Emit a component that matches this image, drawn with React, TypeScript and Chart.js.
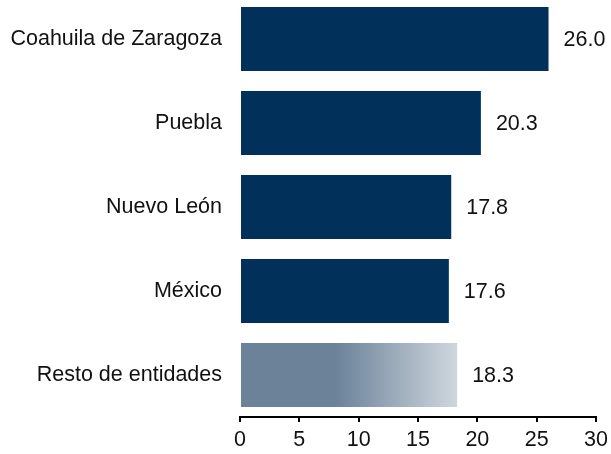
import React, { useEffect, useRef } from "react";
import { Chart, registerables } from "chart.js";

Chart.register(...registerables);

const categories = ["Coahuila de Zaragoza", "Puebla", "Nuevo León", "México", "Resto de entidades"];
const values = [26.0, 20.3, 17.8, 17.6, 18.3];
const xTicks = [0, 5, 10, 15, 20, 25, 30];

const NAVY = "#01305A";
const FONT = "'Liberation Sans', Arial, sans-serif";

const valueLabels = {
  id: "valueLabels",
  afterDatasetsDraw(chart: any) {
    const ctx = chart.ctx;
    const meta = chart.getDatasetMeta(0);
    ctx.save();
    ctx.font = `21.5px ${FONT}`;
    ctx.fillStyle = "#111";
    ctx.textAlign = "left";
    ctx.textBaseline = "middle";
    meta.data.forEach((bar: any, i: number) => {
      ctx.fillText(values[i].toFixed(1), bar.x + 15, bar.y + 1);
    });
    ctx.restore();
  },
};

export default function App() {
  const ref = useRef<HTMLCanvasElement>(null);
  useEffect(() => {
    if (!ref.current) return;
    const chart = new Chart(ref.current, {
      type: "bar",
      data: {
        labels: categories,
        datasets: [
          {
            data: values,
            backgroundColor: (c: any) => {
              const ch = c.chart;
              if (c.dataIndex !== 4 || !ch.chartArea) return NAVY;
              const xs = ch.scales.x;
              const x0 = xs.getPixelForValue(0);
              const x1 = xs.getPixelForValue(values[4]);
              const g = ch.ctx.createLinearGradient(x0, 0, x1, 0);
              g.addColorStop(0, "#6B8299");
              g.addColorStop(0.44, "#6B8299");
              g.addColorStop(1, "#CFD7DE");
              return g;
            },
            barPercentage: 0.762,
            categoryPercentage: 1,
            borderWidth: 0,
          },
        ],
      },
      options: {
        indexAxis: "y",
        animation: false,
        responsive: true,
        maintainAspectRatio: false,
        layout: { padding: { left: 0, right: 15, top: 0, bottom: 0 } },
        plugins: { legend: { display: false }, tooltip: { enabled: false } },
        scales: {
          x: {
            min: 0,
            max: 30,
            afterBuildTicks: (s: any) => {
              s.ticks = xTicks.map((v) => ({ value: v }));
            },
            afterFit: (s: any) => {
              s.height = 37;
              s.paddingLeft = 0;
              s.paddingRight = 0;
            },
            grid: {
              display: true,
              drawOnChartArea: false,
              drawTicks: true,
              tickLength: 5,
              color: "#000",
              lineWidth: 2,
            },
            border: { display: true, color: "#000", width: 2 },
            ticks: {
              font: { size: 21.5, family: FONT },
              color: "#111",
              padding: 5,
              maxRotation: 0,
            },
          },
          y: {
            afterFit: (s: any) => {
              s.width = 240;
              s.paddingTop = 0;
              s.paddingBottom = 0;
            },
            grid: { display: false, drawTicks: false },
            border: { display: false },
            ticks: {
              font: { size: 21.5, family: FONT },
              color: "#111",
              padding: 18,
            },
          },
        },
      },
      plugins: [valueLabels],
    });
    return () => chart.destroy();
  }, []);
  return (
    <div style={{ position: "absolute", left: 0, top: -3, width: 611, height: 457 }}>
      <canvas ref={ref} />
    </div>
  );
}
